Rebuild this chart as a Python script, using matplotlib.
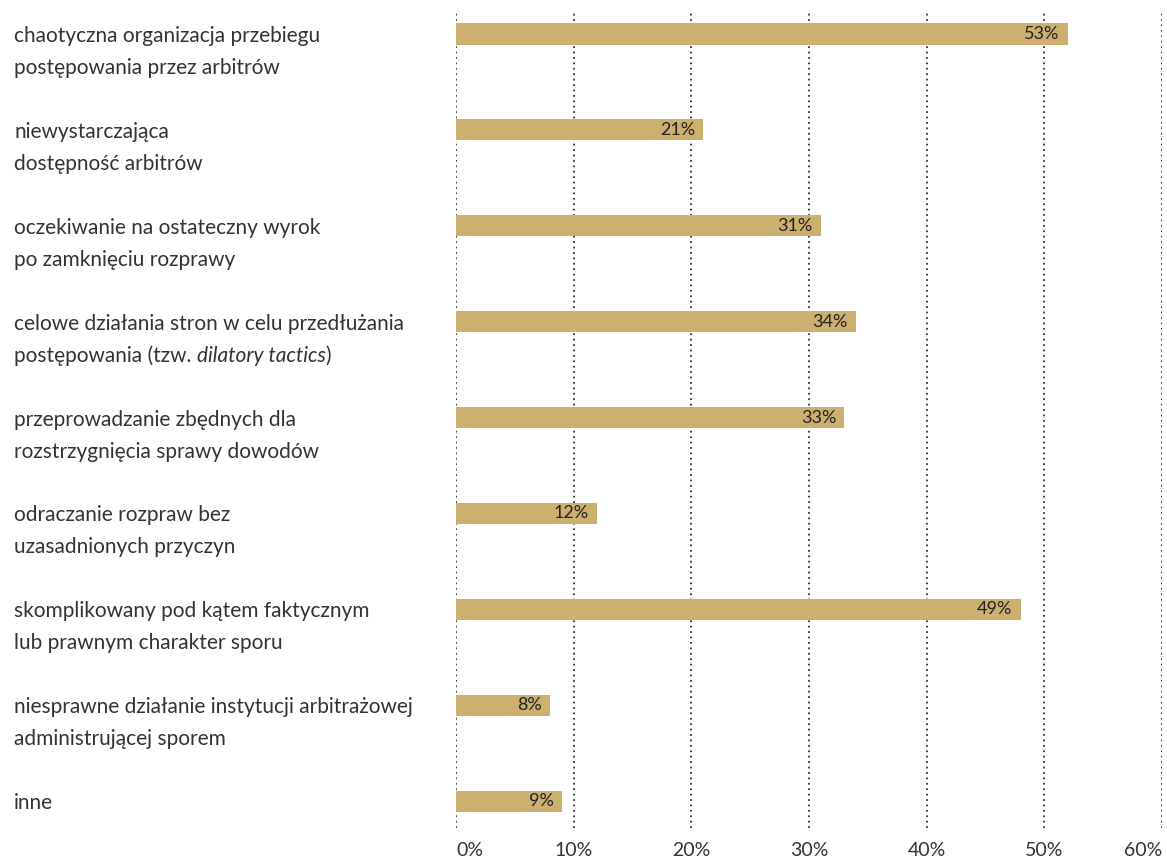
import matplotlib.pyplot as plt

# dane
kategorie = [
    ["chaotyczna organizacja przebiegu", "postępowania przez arbitrów"],
    ["niewystarczająca", "dostępność arbitrów"],
    ["oczekiwanie na ostateczny wyrok", "po zamknięciu rozprawy"],
    ["celowe działania stron w celu przedłużania", "postępowania (tzw. "],
    ["przeprowadzanie zbędnych dla", "rozstrzygnięcia sprawy dowodów"],
    ["odraczanie rozpraw bez", "uzasadnionych przyczyn"],
    ["skomplikowany pod kątem faktycznym", "lub prawnym charakter sporu"],
    ["niesprawne działanie instytucji arbitrażowej", "administrującej sporem"],
    ["inne"],
]
wartosci = [52, 21, 31, 34, 33, 12, 48, 8, 9]  # długość słupków jak na rysunku
etykiety = ["53%", "21%", "31%", "34%", "33%", "12%", "49%", "8%", "9%"]
ticki = [0, 10, 20, 30, 40, 50, 60]

kolor = "#CDB06F"
tekst = "#333333"
plt.rcParams['font.family'] = ['Lato', 'DejaVu Sans']

fig = plt.figure(figsize=(11.67, 8.61), dpi=100)
ax = fig.add_axes([456 / 1167, 1 - 828 / 861, (1162 - 456) / 1167, (828 - 11) / 861])

y = list(range(len(kategorie)))
ax.barh(y, wartosci, height=0.22, color=kolor, zorder=2)

for i, (w, e) in enumerate(zip(wartosci, etykiety)):
    ax.text(w - 0.7, i, e, ha='right', va='center', fontsize=13, color='#222222', zorder=3)

ax.set_xlim(0, 60)
ax.set_ylim(8.28, -0.24)
for t in ticki:
    ax.axvline(t, color='#333333', linestyle=(0, (1, 2)), linewidth=1.3, zorder=1)

ax.set_xticks(ticki)
ax.set_xticklabels([f"{t}%" for t in ticki], fontsize=14, color=tekst)
ax.tick_params(axis='x', length=0, pad=10)
labs = ax.get_xticklabels()
labs[0].set_ha('left')
labs[-1].set_ha('right')
ax.set_yticks([])
for s in ax.spines.values():
    s.set_visible(False)

# etykiety kategorii po lewej stronie, linia po linii
inv = fig.transFigure.inverted()
for i, linie in enumerate(kategorie):
    yy = ax.transData.transform((0, i))[1] - 2
    for j, linia in enumerate(linie):
        yf = inv.transform((0, yy - 32 * j))[1]
        t1 = fig.text(14 / 1167, yf, linia, ha='left', va='center', fontsize=15, color=tekst)
        if linia.endswith("(tzw. "):
            # kursywa doklejona za tekstem drugiej linii
            ann = ax.annotate("dilatory tactics", xy=(1, 0), xycoords=t1, va='bottom', ha='left',
                              fontsize=15, color=tekst, style='italic', annotation_clip=False)
            ax.annotate(")", xy=(1, 0), xycoords=ann, va='bottom', ha='left',
                        fontsize=15, color=tekst, annotation_clip=False)

fig.savefig("out.png", dpi=100)
